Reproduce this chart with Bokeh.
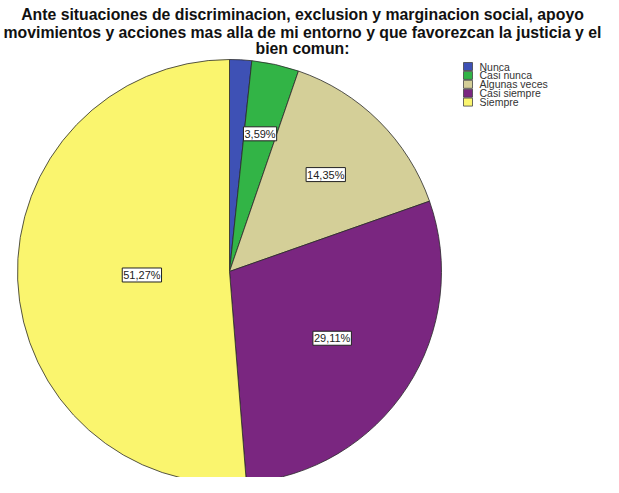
import math
from bokeh.plotting import figure
from bokeh.models import Range1d, ColumnDataSource
from bokeh.embed import file_html
from bokeh.resources import INLINE
from bokeh.core.properties import value

# ---- data ----
title_lines = [
    "Ante situaciones de discriminacion, exclusion y marginacion social, apoyo",
    "movimientos y acciones mas alla de mi entorno y que favorezcan la justicia y el",
    "bien comun:",
]
categories = ["Nunca", "Casi nunca", "Algunas veces", "Casi siempre", "Siempre"]
percentages = [1.68, 3.59, 14.35, 29.11, 51.27]
slice_labels = ["", "3,59%", "14,35%", "29,11%", "51,27%"]
colors = ["#3e51b5", "#32b446", "#d4cf98", "#7a2680", "#faf56e"]

# ---- layout (page pixels) ----
W, H = 603, 477
def X(ix):
    return ix - 8
def Y(iy):
    return H + 8 - iy

cx, cy, r = X(237), Y(279), 212

p = figure(width=W, height=H, output_backend="svg", toolbar_location=None,
           x_range=Range1d(0, W), y_range=Range1d(0, H), min_border=0,
           background_fill_color="white", border_fill_color="white")
p.axis.visible = False
p.grid.visible = False
p.outline_line_color = None

total = sum(percentages)
starts, ends, lx, ly = [], [], [], []
cum = 0.0
for v in percentages:
    a0 = math.pi / 2 - 2 * math.pi * cum / total
    cum += v
    a1 = math.pi / 2 - 2 * math.pi * cum / total
    starts.append(a0)
    ends.append(a1)
    half = (a0 - a1) / 2
    mid = (a0 + a1) / 2
    d = 2 * r * math.sin(half) / (3 * half)
    lx.append(cx + d * math.cos(mid))
    ly.append(cy + d * math.sin(mid))

src = ColumnDataSource(dict(start=starts, end=ends, color=colors, cat=categories))
p.wedge(x=cx, y=cy, radius=r, start_angle="start", end_angle="end",
        direction="clock", fill_color="color", line_color="#2a2a2a",
        line_width=0.8, source=src)

keep = [i for i in range(len(slice_labels)) if slice_labels[i]]
lab = ColumnDataSource(dict(x=[lx[i] for i in keep],
                            y=[ly[i] for i in keep],
                            t=[slice_labels[i] for i in keep]))
p.text(x="x", y="y", text="t", source=lab, text_align="center",
       text_baseline="middle", text_font=value("Liberation Sans"),
       text_font_size="11px", text_color="#222222",
       background_fill_color="white", border_line_color="#222222",
       border_line_width=1, padding=1)

# title
ty = [Y(22), Y(40), Y(56)]
p.text(x=[X(310)] * 3, y=ty, text=title_lines, text_align="center",
       text_baseline="middle", text_font=value("Liberation Sans"),
       text_font_size="15.8px", text_font_style="bold", text_color="#111111")

# legend
rows = [Y(74 + 8.9 * i) for i in range(len(categories))]
p.rect(x=[X(475.5)] * len(categories), y=rows, width=9, height=8,
       fill_color=colors, line_color="#444444", line_width=0.8)
p.text(x=[X(487)] * len(categories), y=rows, text=categories,
       text_align="left", text_baseline="middle",
       text_font=value("Liberation Sans"), text_font_size="10.5px",
       text_color="#333333")

open("out.html", "w").write(file_html(p, INLINE))
